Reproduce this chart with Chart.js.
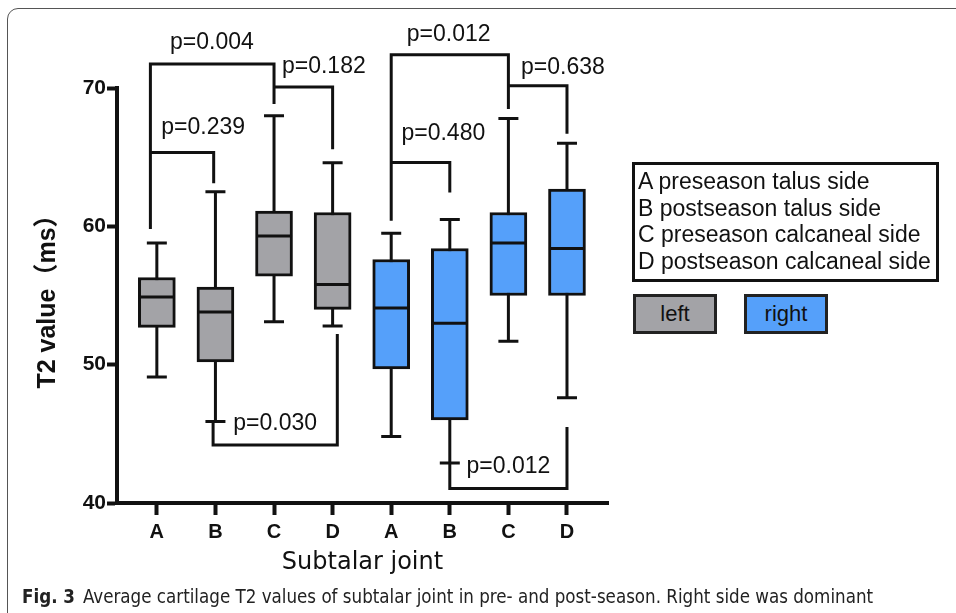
<!DOCTYPE html>
<html>
<head>
<meta charset="utf-8">
<script src="https://cdn.jsdelivr.net/npm/chart.js@4/dist/chart.umd.min.js"></script>
<style>
  body { margin: 0; width: 956px; height: 613px; overflow: hidden; position: relative; background: #fff;
         font-family: "Liberation Sans", Arial, sans-serif; color: #111; }
  #frame { position: absolute; left: 7px; top: 8px; width: 1000px; height: 700px;
           border: 1.5px solid #555; border-radius: 11px; }
  canvas { position: absolute; left: 0; top: 0; }
  #key { position: absolute; left: 632px; top: 162px; width: 298px; height: 111px; border: 3px solid #111;
         padding: 3px 0 0 3px; font-size: 23px; line-height: 26.7px; white-space: nowrap; }
  .swatch { position: absolute; top: 294px; width: 78px; height: 34px; border: 3px solid #222;
            font-size: 22px; line-height: 34px; text-align: center; }
  #caption { position: absolute; left: 22px; top: 585px; font-size: 18.6px; line-height: 24px; white-space: nowrap;
             font-family: "DejaVu Sans Condensed", "Liberation Sans Narrow", "Liberation Sans", sans-serif; color: #222; }
  #caption b { margin-right: 8px; }
</style>
</head>
<body>
<div id="frame"></div>
<canvas id="chart-box" width="956" height="613"></canvas>
<div id="key">A preseason talus side<br>B postseason talus side<br>C preseason calcaneal side<br>D postseason calcaneal side</div>
<div class="swatch" style="left:633px;background:#a3a3a7">left</div>
<div class="swatch" style="left:744px;background:#55a0fa">right</div>
<div id="caption"><b>Fig. 3</b>Average cartilage T2 values of subtalar joint in pre- and post-season. Right side was dominant</div>
<script>
// groups on the x axis: left A-D then right A-D
const groups = ['A', 'B', 'C', 'D', 'A', 'B', 'C', 'D'];

// box plot values (ms)
const leftMin = [49.1, 45.9, 53.1, 52.8];
const leftQ1  = [52.7, 50.2, 56.4, 54.0];
const leftMed = [54.9, 53.8, 59.3, 55.8];
const leftQ3  = [56.3, 55.6, 61.1, 61.0];
const leftMax = [58.8, 62.5, 68.0, 64.6];

const rightMin = [44.8, 42.9, 51.7, 47.6];
const rightQ1  = [49.7, 46.0, 55.0, 55.0];
const rightMed = [54.1, 53.0, 58.8, 58.4];
const rightQ3  = [57.6, 58.4, 61.0, 62.7];
const rightMax = [59.5, 60.5, 67.8, 66.0];

const yTicks = [40, 50, 60, 70];

// significance brackets: x1,x2 group positions, y = bar level, y1/y2 = leg ends, lx/ly = label
const comparisons = [
  { text: 'p=0.004', x1: 0.89, x2: 3,    y: 71.74, y1: 59.8,  y2: 68.84, lx: 1.94, ly: 73.26 },
  { text: 'p=0.182', x1: 3,    x2: 4,    y: 70.07, y1: 70.07, y2: 65.58, lx: 3.85, ly: 71.56 },
  { text: 'p=0.239', x1: 0.89, x2: 1.97, y: 65.34, y1: 65.34, y2: 63.12, lx: 1.79, ly: 67.1 },
  { text: 'p=0.030', x1: 1.96, x2: 4.08, y: 44.19, y1: 45.91, y2: 52.21, lx: 3.02, ly: 45.74 },
  { text: 'p=0.012', x1: 5,    x2: 7,    y: 72.41, y1: 60.41, y2: 68.48, lx: 5.98, ly: 73.86 },
  { text: 'p=0.638', x1: 7,    x2: 8,    y: 70.17, y1: 70.17, y2: 66.69, lx: 7.93, ly: 71.49 },
  { text: 'p=0.480', x1: 5,    x2: 6,    y: 64.61, y1: 64.61, y2: 62.44, lx: 5.89, ly: 66.67 },
  { text: 'p=0.012', x1: 6,    x2: 8,    y: 41.04, y1: 42.94, y2: 45.5,  lx: 7.0,  ly: 42.65 }
];

const grey = '#a3a3a7';
const blue = '#55a0fa';

const boxes = [];
for (let i = 0; i < 4; i++) {
  boxes.push({ x: i + 1, min: leftMin[i], q1: leftQ1[i], med: leftMed[i], q3: leftQ3[i], max: leftMax[i] });
}
for (let i = 0; i < 4; i++) {
  boxes.push({ x: i + 5, min: rightMin[i], q1: rightQ1[i], med: rightMed[i], q3: rightQ3[i], max: rightMax[i] });
}

const whiskers = {
  id: 'whiskers',
  beforeDatasetsDraw(chart) {
    const { ctx, scales: { x, y } } = chart;
    ctx.save();
    ctx.strokeStyle = '#111';
    ctx.lineWidth = 3;
    boxes.forEach(b => {
      const px = x.getPixelForValue(b.x);
      ctx.beginPath();
      ctx.moveTo(px, y.getPixelForValue(b.max));
      ctx.lineTo(px, y.getPixelForValue(b.min));
      ctx.moveTo(px - 10, y.getPixelForValue(b.max));
      ctx.lineTo(px + 10, y.getPixelForValue(b.max));
      ctx.moveTo(px - 10, y.getPixelForValue(b.min));
      ctx.lineTo(px + 10, y.getPixelForValue(b.min));
      ctx.stroke();
    });
    ctx.restore();
  },
  afterDatasetsDraw(chart) {
    const { ctx, scales: { x, y } } = chart;
    ctx.save();
    ctx.strokeStyle = '#111';
    ctx.lineWidth = 3;
    boxes.forEach(b => {
      const px = x.getPixelForValue(b.x);
      const py = y.getPixelForValue(b.med);
      ctx.beginPath();
      ctx.moveTo(px - 18, py);
      ctx.lineTo(px + 18, py);
      ctx.stroke();
    });
    // brackets
    ctx.lineJoin = 'miter';
    comparisons.forEach(c => {
      ctx.beginPath();
      ctx.moveTo(x.getPixelForValue(c.x1), y.getPixelForValue(c.y1));
      ctx.lineTo(x.getPixelForValue(c.x1), y.getPixelForValue(c.y));
      ctx.lineTo(x.getPixelForValue(c.x2), y.getPixelForValue(c.y));
      ctx.lineTo(x.getPixelForValue(c.x2), y.getPixelForValue(c.y2));
      ctx.stroke();
    });
    ctx.fillStyle = '#111';
    ctx.font = '23px "Liberation Sans", Arial, sans-serif';
    ctx.textAlign = 'center';
    ctx.textBaseline = 'middle';
    comparisons.forEach(c => {
      ctx.fillText(c.text, x.getPixelForValue(c.lx), y.getPixelForValue(c.ly));
    });
    ctx.restore();
  }
};

const ctx = document.getElementById('chart-box').getContext('2d');
const chart = new Chart(ctx, {
  type: 'bar',
  data: {
    datasets: [
      {
        label: 'left',
        data: leftQ1.map((v, i) => ({ x: i + 1, y: [v, leftQ3[i]] })),
        backgroundColor: grey,
        borderColor: '#111',
        borderWidth: 3,
        borderSkipped: false,
        barThickness: 37,
        grouped: false
      },
      {
        label: 'right',
        data: rightQ1.map((v, i) => ({ x: i + 5, y: [v, rightQ3[i]] })),
        backgroundColor: blue,
        borderColor: '#111',
        borderWidth: 3,
        borderSkipped: false,
        barThickness: 37,
        grouped: false
      }
    ]
  },
  options: {
    responsive: false,
    animation: false,
    layout: { padding: { left: 0, top: 88, right: 348, bottom: 0 } },
    plugins: { legend: { display: false }, tooltip: { enabled: false } },
    scales: {
      x: {
        type: 'linear',
        min: 0.32,
        max: 8.7,
        offset: false,
        afterBuildTicks: s => { s.ticks = groups.map((g, i) => ({ value: i + 1 })); },
        afterFit: s => { s.height = 110; },
        ticks: {
          callback: v => groups[v - 1],
          color: '#111',
          padding: 5,
          maxRotation: 0,
          font: { family: '"Liberation Sans", Arial', size: 20, weight: 'bold' }
        },
        grid: { offset: false, drawOnChartArea: false, drawTicks: true, tickLength: 12, tickWidth: 4, color: '#111' },
        border: { display: true, width: 4, color: '#111' },
        title: {
          display: true,
          text: 'Subtalar joint',
          color: '#111',
          padding: { top: 0, bottom: 36 },
          font: { family: '"DejaVu Sans", sans-serif', size: 24 }
        }
      },
      y: {
        min: 40,
        max: 70,
        afterBuildTicks: s => { s.ticks = yTicks.map(v => ({ value: v })); },
        afterFit: s => { s.width = 117; },
        ticks: {
          color: '#111',
          padding: 1,
          font: { family: '"Liberation Sans", Arial', size: 21, weight: 'bold' }
        },
        grid: { drawOnChartArea: false, drawTicks: true, tickLength: 10, tickWidth: 4, color: '#111' },
        border: { display: true, width: 4, color: '#111' },
        title: {
          display: true,
          text: 'T2 value（ms）',
          color: '#111',
          padding: { top: 33, bottom: 0 },
          font: { family: '"Liberation Sans", Arial, "Noto Sans CJK SC"', size: 25, weight: 'bold' }
        }
      }
    }
  },
  plugins: [whiskers]
});
</script>
</body>
</html>
